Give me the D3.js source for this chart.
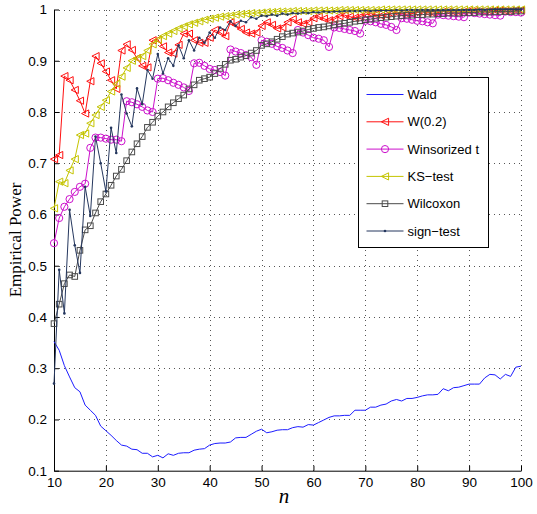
<!DOCTYPE html>
<html>
<head>
<meta charset="utf-8">
<script src="https://cdn.jsdelivr.net/npm/d3@7"></script>
<style>
  html, body { margin: 0; padding: 0; background: #fff; }
  svg { display: block; }
</style>
</head>
<body>
<svg id="chart" width="537" height="514"></svg>
<script>
// Sample sizes
const sampleSizes = [10,11,12,13,14,15,16,17,18,19,20,21,22,23,24,25,26,27,28,29,30,31,32,33,34,35,36,37,38,39,
  40,41,42,43,44,45,46,47,48,49,50,51,52,53,54,55,56,57,58,59,60,61,62,63,64,65,66,67,68,69,
  70,71,72,73,74,75,76,77,78,79,80,81,82,83,84,85,86,87,88,89,90,91,92,93,94,95,96,97,98,99,100];

// Empirical power of each test, one value per sample size
const wald = [0.352,0.335,0.305,0.283,0.262,0.254,0.228,0.218,0.208,0.187,
  0.178,0.169,0.159,0.150,0.148,0.142,0.141,0.134,0.134,0.127,
  0.130,0.125,0.133,0.130,0.134,0.135,0.135,0.140,0.142,0.143,
  0.150,0.153,0.154,0.154,0.156,0.164,0.165,0.165,0.171,0.177,
  0.181,0.174,0.176,0.179,0.180,0.180,0.184,0.186,0.185,0.190,
  0.189,0.194,0.199,0.204,0.207,0.207,0.208,0.208,0.218,0.218,
  0.218,0.224,0.224,0.228,0.230,0.236,0.239,0.236,0.241,0.241,
  0.243,0.246,0.248,0.248,0.249,0.260,0.256,0.262,0.263,0.266,
  0.269,0.269,0.269,0.281,0.288,0.287,0.279,0.288,0.284,0.302,0.304];

const w02 = [0.708,0.716,0.870,0.862,0.843,0.822,0.797,0.860,0.909,0.895,
  0.879,0.862,0.845,0.920,0.932,0.921,0.905,0.890,0.887,0.940,
  0.941,0.928,0.916,0.914,0.931,0.953,0.953,0.940,0.935,0.935,
  0.945,0.960,0.955,0.948,0.975,0.970,0.962,0.955,0.953,0.955,
  0.968,0.975,0.970,0.963,0.965,0.975,0.981,0.975,0.972,0.975,
  0.983,0.986,0.982,0.979,0.981,0.987,0.989,0.986,0.984,0.986,
  0.990,0.992,0.990,0.988,0.989,0.992,0.994,0.992,0.991,0.992,
  0.994,0.995,0.994,0.993,0.994,0.996,0.996,0.995,0.995,0.996,
  0.997,0.997,0.996,0.996,0.997,0.998,0.998,0.997,0.997,0.998,0.998];

const winsorized = [0.544,0.593,0.615,0.630,0.644,0.654,0.660,0.730,0.750,0.750,
  0.748,0.746,0.746,0.743,0.821,0.819,0.815,0.810,0.803,0.800,
  0.865,0.866,0.862,0.857,0.853,0.848,0.841,0.895,0.896,0.890,
  0.884,0.882,0.878,0.871,0.922,0.918,0.915,0.911,0.907,0.892,
  0.940,0.937,0.933,0.928,0.925,0.920,0.915,0.960,0.955,0.950,
  0.945,0.943,0.940,0.927,0.965,0.964,0.962,0.960,0.958,0.953,
  0.978,0.977,0.975,0.972,0.970,0.966,0.960,0.983,0.982,0.980,
  0.978,0.977,0.975,0.973,0.990,0.989,0.988,0.987,0.986,0.985,
  0.994,0.993,0.992,0.991,0.990,0.989,0.988,0.996,0.995,0.995,0.994];

const ksTest = [0.612,0.664,0.661,0.686,0.708,0.755,0.758,0.778,0.794,0.810,
  0.823,0.840,0.855,0.869,0.886,0.900,0.905,0.909,0.920,0.932,
  0.941,0.948,0.953,0.958,0.963,0.967,0.971,0.974,0.977,0.980,
  0.982,0.984,0.986,0.987,0.988,0.990,0.991,0.992,0.993,0.993,
  0.994,0.995,0.995,0.996,0.996,0.996,0.997,0.997,0.997,0.997,
  0.998,0.998,0.998,0.998,0.998,0.999,0.999,0.999,0.999,0.999,
  0.999,0.999,0.999,1,1,1,1,1,1,1,
  1,1,1,1,1,1,1,1,1,1,
  1,1,1,1,1,1,1,1,1,1,1];

const wilcoxon = [0.387,0.425,0.465,0.482,0.479,0.530,0.570,0.578,0.603,0.625,
  0.640,0.657,0.675,0.688,0.705,0.722,0.738,0.752,0.770,0.780,
  0.792,0.800,0.810,0.818,0.826,0.833,0.845,0.853,0.862,0.865,
  0.868,0.875,0.885,0.893,0.901,0.903,0.907,0.910,0.915,0.920,
  0.930,0.933,0.937,0.942,0.947,0.952,0.954,0.956,0.958,0.961,
  0.963,0.965,0.966,0.968,0.970,0.972,0.973,0.975,0.977,0.978,
  0.980,0.981,0.983,0.984,0.985,0.986,0.987,0.988,0.989,0.989,
  0.990,0.990,0.991,0.991,0.992,0.992,0.993,0.993,0.993,0.994,
  0.994,0.994,0.995,0.995,0.995,0.996,0.996,0.996,0.996,0.997,0.997];

const signTest = [0.270,0.492,0.407,0.609,0.540,0.486,0.654,0.597,0.752,0.700,
  0.645,0.769,0.720,0.834,0.797,0.772,0.846,0.815,0.882,0.865,
  0.913,0.875,0.905,0.890,0.930,0.905,0.940,0.920,0.945,0.935,
  0.955,0.945,0.965,0.960,0.977,0.968,0.978,0.975,0.985,0.982,
  0.988,0.987,0.990,0.988,0.992,0.990,0.993,0.992,0.994,0.993,
  0.995,0.994,0.996,0.995,0.996,0.996,0.997,0.997,0.997,0.997,
  0.998,0.997,0.998,0.998,0.998,0.998,0.999,0.998,0.999,0.999,
  0.999,0.999,0.999,0.999,0.999,0.999,0.999,0.999,0.999,0.999,
  0.999,0.999,1,0.999,1,1,1,1,1,1,1];

// Series labels and tick values
const seriesNames = ["Wald", "W(0.2)", "Winsorized t", "KS\u2212test", "Wilcoxon", "sign\u2212test"];
const xTicks = [10,20,30,40,50,60,70,80,90,100];
const yTicks = [0.1,0.2,0.3,0.4,0.5,0.6,0.7,0.8,0.9,1];

(function () {
  const seriesValues = [wald, w02, winsorized, ksTest, wilcoxon, signTest];
  const styles = [
    { color: "#1c1cff", marker: "none" },
    { color: "#ff1010", marker: "triLeft" },
    { color: "#cc10cc", marker: "circle" },
    { color: "#c4c400", marker: "triLeft" },
    { color: "#4a4a4a", marker: "square" },
    { color: "#25375e", marker: "dot" }
  ];

  const svg = d3.select("#chart");
  const plotLeft = 54, plotRight = 521, plotTop = 9.5, plotBottom = 470.7;

  const x = d3.scaleLinear().domain([10, 100]).range([plotLeft, plotRight]);
  const y = d3.scaleLinear().domain([0.1, 1]).range([plotBottom, plotTop]);

  const sans = "'Liberation Sans', Arial, Helvetica, sans-serif";
  const serif = "'Liberation Serif', 'Times New Roman', serif";

  // dotted grid
  const grid = svg.append("g").attr("stroke", "#555").attr("stroke-width", 1)
    .attr("stroke-dasharray", "1,4").attr("shape-rendering", "crispEdges");
  grid.selectAll("line.v").data(xTicks.filter(d => d !== 10)).join("line")
    .attr("x1", d => Math.round(x(d)) + 0.5).attr("x2", d => Math.round(x(d)) + 0.5)
    .attr("y1", plotBottom).attr("y2", plotTop);
  grid.selectAll("line.h").data(yTicks.filter(d => d !== 0.1)).join("line")
    .attr("y1", d => Math.round(y(d)) + 0.5).attr("y2", d => Math.round(y(d)) + 0.5)
    .attr("x1", plotLeft).attr("x2", plotRight);

  // axes
  const fmt = d => d === 1 ? "1" : d3.format(".1f")(d);
  const xAxis = svg.append("g").attr("transform", `translate(0,${plotBottom})`)
    .call(d3.axisBottom(x).tickValues(xTicks).tickSizeInner(-5).tickSizeOuter(0).tickPadding(7));
  const yAxis = svg.append("g").attr("transform", `translate(${plotLeft},0)`)
    .call(d3.axisLeft(y).tickValues(yTicks).tickFormat(fmt).tickSizeInner(-5).tickSizeOuter(0).tickPadding(7));
  [xAxis, yAxis].forEach(g => {
    g.selectAll("text").attr("font-family", sans).attr("font-size", 13.5).attr("fill", "#000");
    g.selectAll("line, path").attr("stroke", "#000");
  });

  // data lines and markers
  const line = d3.line().x((d, i) => x(sampleSizes[i])).y(d => y(d));

  function drawMarker(g, type, color, cx, cy) {
    if (type === "triLeft") {
      const s = 3.6;
      g.append("path").attr("d", `M${cx - s},${cy} L${cx + s},${cy - s} L${cx + s},${cy + s} Z`)
        .attr("fill", "none").attr("stroke", color).attr("stroke-width", 1);
    } else if (type === "circle") {
      g.append("circle").attr("cx", cx).attr("cy", cy).attr("r", 3.6)
        .attr("fill", "none").attr("stroke", color).attr("stroke-width", 1);
    } else if (type === "square") {
      g.append("rect").attr("x", cx - 2.8).attr("y", cy - 2.8).attr("width", 5.6).attr("height", 5.6)
        .attr("fill", "none").attr("stroke", color).attr("stroke-width", 1);
    } else if (type === "dot") {
      g.append("circle").attr("cx", cx).attr("cy", cy).attr("r", 1.3).attr("fill", color);
    }
  }

  seriesValues.forEach((vals, k) => {
    const st = styles[k];
    const g = svg.append("g");
    g.append("path").datum(vals).attr("d", line)
      .attr("fill", "none").attr("stroke", st.color).attr("stroke-width", 1);
    if (st.marker !== "none") {
      vals.forEach((v, i) => drawMarker(g, st.marker, st.color, x(sampleSizes[i]), y(v)));
    }
  });

  // legend
  const lg = svg.append("g");
  lg.append("rect").attr("x", 358.5).attr("y", 77.5).attr("width", 130).attr("height", 170)
    .attr("fill", "#fff").attr("stroke", "#000").attr("stroke-width", 1);
  seriesNames.forEach((name, k) => {
    const cy = 94.5 + k * 27.3;
    const st = styles[k];
    lg.append("line").attr("x1", 366.5).attr("x2", 403.5).attr("y1", cy).attr("y2", cy)
      .attr("stroke", st.color).attr("stroke-width", 1);
    drawMarker(lg, st.marker, st.color, 385, cy);
    lg.append("text").attr("x", 407.5).attr("y", cy).attr("dy", "0.36em")
      .attr("font-family", sans).attr("font-size", 13).attr("fill", "#000").text(name);
  });

  // axis titles
  svg.append("text").attr("transform", `translate(21,240) rotate(-90)`)
    .attr("text-anchor", "middle").attr("font-family", serif).attr("font-size", 17)
    .attr("fill", "#000").text("Empirical Power");
  svg.append("text").attr("x", 284).attr("y", 503).attr("text-anchor", "middle")
    .attr("font-family", serif).attr("font-style", "italic").attr("font-size", 21)
    .attr("fill", "#000").text("n");
})();
</script>
</body>
</html>
